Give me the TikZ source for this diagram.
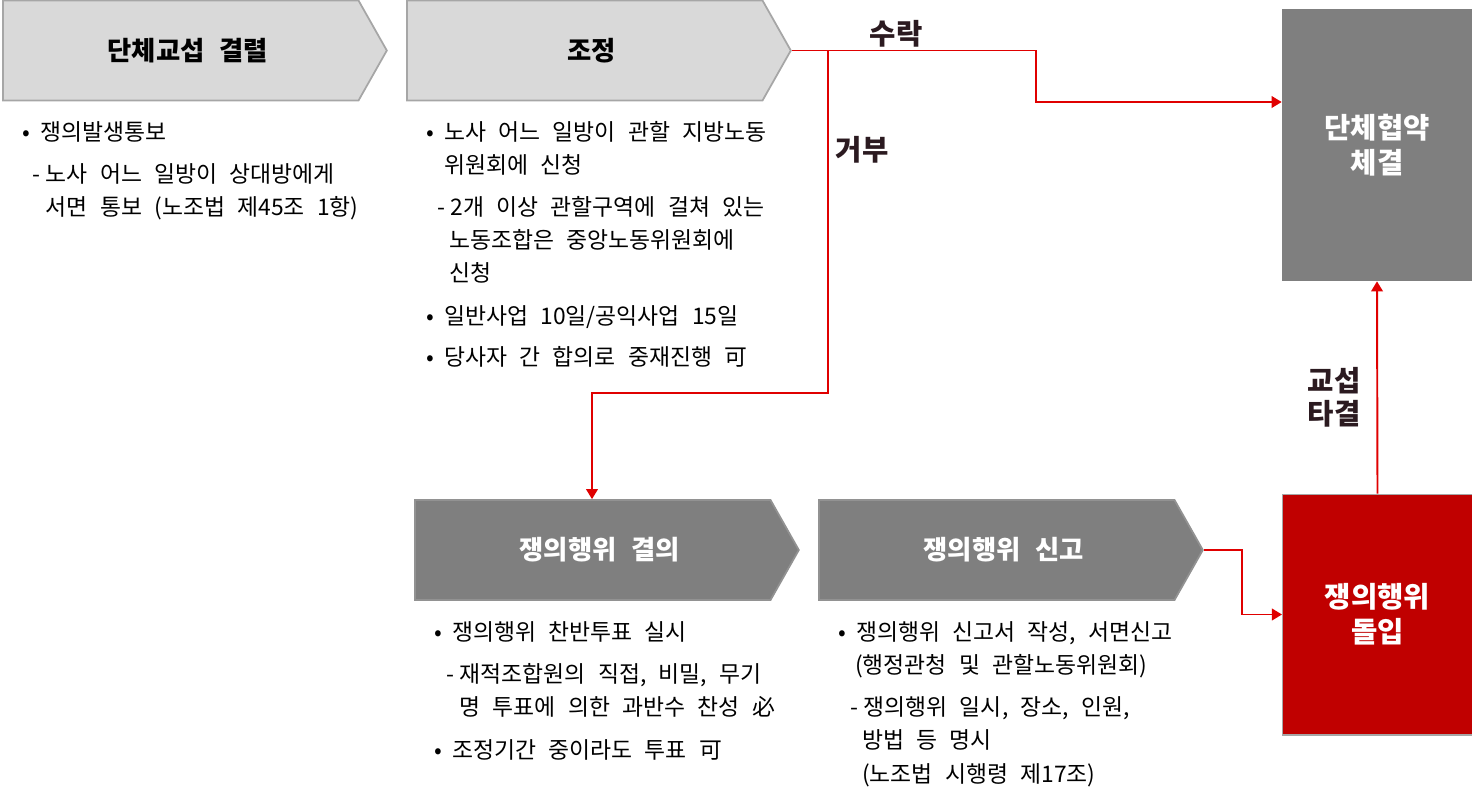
\documentclass[tikz,border=0pt]{standalone}
\usepackage{fontspec}
\setmainfont{Noto Sans CJK KR}[WordSpace=2.4]
\usetikzlibrary{arrows.meta,positioning,shapes.symbols}
\definecolor{gris}{HTML}{D9D9D9}
\definecolor{grisb}{HTML}{A6A6A6}
\definecolor{oscuro}{HTML}{7F7F7F}
\definecolor{rojo}{HTML}{C00000}
\definecolor{linea}{HTML}{E00000}
\definecolor{tinta}{HTML}{2B1A20}
\newcommand{\blt}{\makebox[10.2pt][l]{•}}
\newcommand{\sub}[1]{\hspace*{#1}\makebox[7.6pt][l]{-}}
\newcommand{\ind}[1]{\hspace*{#1}}

\begin{document}
\begin{tikzpicture}[x=0.02cm,y=-0.02cm,>=Triangle,
  chev/.style={signal,signal to=east,signal pointer angle=121,anchor=west,
    minimum width=7.68cm,minimum height=2.0cm,inner sep=0,draw=grisb,line width=1pt,
    font=\fontsize{15}{18}\selectfont\bfseries},
  caja/.style={minimum width=3.8cm,inner sep=0,align=center,text=white,
    font=\fontsize{16.3}{19.8}\selectfont\bfseries},
  lista/.style={anchor=north west,align=left,inner sep=0,
    font=\fontsize{13}{18.7}\selectfont},
  conn/.style={draw=linea,line width=1.1pt},
  etq/.style={text=tinta,align=center,font=\fontsize{16.3}{18.7}\selectfont\bfseries}]
\useasboundingbox (0,0) rectangle (1472,799);
% etapas
\node[chev,fill=gris] (kyeol) at (2,50.5) {\hspace*{8pt}단체교섭 결렬};
\node[chev,fill=gris] (jojeong) at (406,50.5) {\hspace*{8pt}조정};
\node[chev,fill=oscuro,draw=oscuro!85!white,text=white] (gyeol) at (414,550) {\hspace*{8pt}쟁의행위 결의};
\node[chev,fill=oscuro,draw=oscuro!85!white,text=white] (singo) at (818,550) {\hspace*{8pt}쟁의행위 신고};
\node[caja,fill=oscuro,minimum height=5.44cm] (hyeob) at (1377,145) {단체협약\\체결};
\node[caja,fill=rojo,draw=grisb,line width=0.6pt,minimum height=4.82cm] (dolip) at (1377.5,614.5) {쟁의행위\\돌입};
% 설명
\node[lista] (t1) at (22,121) {\blt 쟁의발생통보\\[5.5pt]
  \sub{5.7pt}노사 어느 일방이 상대방에게\\
  \ind{13.3pt}서면 통보 (노조법 제45조 1항)};
\node[lista] (t2) at (426,121) {\blt 노사 어느 일방이 관할 지방노동\\
  \ind{10.2pt}위원회에 신청\\[5.5pt]
  \sub{6.2pt}2개 이상 관할구역에 걸쳐 있는\\
  \ind{13.1pt}노동조합은 중앙노동위원회에\\
  \ind{13.1pt}신청\\[5.5pt]
  \blt 일반사업 10일/공익사업 15일\\[5pt]
  \blt 당사자 간 합의로 중재진행 可};
\node[lista] (t3) at (434,621) {\blt 쟁의행위 찬반투표 실시\\[5.5pt]
  \sub{6.8pt}재적조합원의 직접, 비밀, 무기\\
  \ind{14.4pt}명 투표에 의한 과반수 찬성 必\\[5.5pt]
  \blt 조정기간 중이라도 투표 可};
\node[lista] (t4) at (838,621) {\blt 쟁의행위 신고서 작성, 서면신고\\
  \ind{9.6pt}(행정관청 및 관할노동위원회)\\[5.5pt]
  \sub{6.8pt}쟁의행위 일시, 장소, 인원,\\
  \ind{13.6pt}방법 등 명시\\[0.6pt]
  \ind{13.6pt}(노조법 시행령 제17조)};
% 연결
\coordinate (sura) at (1036,102);
\coordinate (geobu) at (828,393);
\coordinate (naerim) at (592,393);
\coordinate (kkeok) at (1242,0);
\draw[conn,->] (jojeong.east) -| (sura) -- (sura -| hyeob.west);
\draw[conn,->] (jojeong.east -| geobu) -- (geobu) -- (naerim) -- (naerim |- gyeol.north);
\draw[conn,->] (singo.east) -| (kkeok |- dolip.west) -- (dolip.west);
\draw[conn,->] (dolip.north) -- (hyeob.south);
\node[etq] (l1) at (896,34) {수락};
\node[etq] (l2) at (862,150) {거부};
\node[etq] (l3) at (1334,397) {교섭\\타결};
\end{tikzpicture}
\end{document}
